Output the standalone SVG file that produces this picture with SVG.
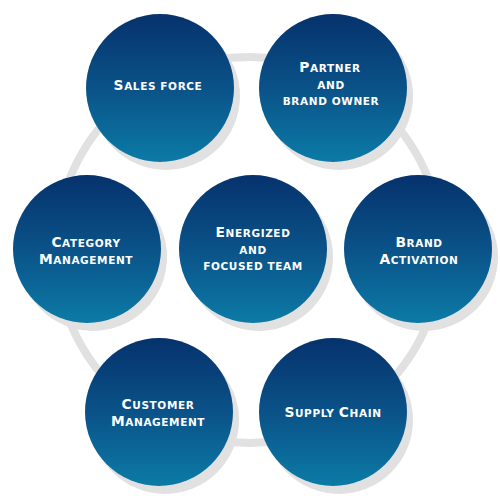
<svg xmlns="http://www.w3.org/2000/svg" width="500" height="500" viewBox="0 0 500 500">
<defs>
<linearGradient id="ballGrad" x1="0" y1="0" x2="0" y2="1">
<stop offset="0" stop-color="#06326c"/>
<stop offset="0.5" stop-color="#0a5288"/>
<stop offset="1" stop-color="#0c7ba6"/>
</linearGradient>
<style>
.ball{fill:url(#ballGrad);}
.shadow{fill:#e1e1e1;}
.ring{fill:none;stroke:#e1e1e1;stroke-width:8;}
.lbl{fill:#ffffff;font-family:"DejaVu Sans","Liberation Sans",sans-serif;font-weight:bold;font-size:10.5px;letter-spacing:0.6px;text-anchor:middle;}
.cap{font-size:13.8px;}
</style>
</defs>
<rect width="500" height="500" fill="#ffffff"/>
<g id="connectors">
<circle class="ring" cx="249" cy="250" r="193"/>
</g>
<g id="sales-force">
<circle class="shadow" cx="166" cy="96" r="74"/>
<circle class="ball" cx="160" cy="88" r="74"/>
<text class="lbl" x="158" y="90"><tspan class="cap">S</tspan>ALES FORCE</text>
</g>
<g id="partner-brand-owner">
<circle class="shadow" cx="339" cy="96" r="74"/>
<circle class="ball" cx="333" cy="88" r="74"/>
<text class="lbl" x="330" y="72"><tspan class="cap">P</tspan>ARTNER</text>
<text class="lbl" x="331" y="88.5">AND</text>
<text class="lbl" x="331" y="105">BRAND OWNER</text>
</g>
<g id="category-management">
<circle class="shadow" cx="93" cy="257" r="74"/>
<circle class="ball" cx="87" cy="249" r="74"/>
<text class="lbl" x="86" y="247"><tspan class="cap">C</tspan>ATEGORY</text>
<text class="lbl" x="86" y="264"><tspan class="cap">M</tspan>ANAGEMENT</text>
</g>
<g id="energized-team">
<circle class="shadow" cx="259" cy="257" r="74"/>
<circle class="ball" cx="253" cy="249" r="74"/>
<text class="lbl" x="253" y="237"><tspan class="cap">E</tspan>NERGIZED</text>
<text class="lbl" x="253" y="253.5">AND</text>
<text class="lbl" x="253" y="270">FOCUSED TEAM</text>
</g>
<g id="brand-activation">
<circle class="shadow" cx="424" cy="257" r="74"/>
<circle class="ball" cx="418" cy="249" r="74"/>
<text class="lbl" x="419" y="247"><tspan class="cap">B</tspan>RAND</text>
<text class="lbl" x="419" y="264"><tspan class="cap">A</tspan>CTIVATION</text>
</g>
<g id="customer-management">
<circle class="shadow" cx="165" cy="420" r="74"/>
<circle class="ball" cx="159" cy="412" r="74"/>
<text class="lbl" x="158" y="409"><tspan class="cap">C</tspan>USTOMER</text>
<text class="lbl" x="158" y="426"><tspan class="cap">M</tspan>ANAGEMENT</text>
</g>
<g id="supply-chain">
<circle class="shadow" cx="339" cy="420" r="74"/>
<circle class="ball" cx="333" cy="412" r="74"/>
<text class="lbl" x="333" y="417"><tspan class="cap">S</tspan>UPPLY <tspan class="cap">C</tspan>HAIN</text>
</g>
</svg>
